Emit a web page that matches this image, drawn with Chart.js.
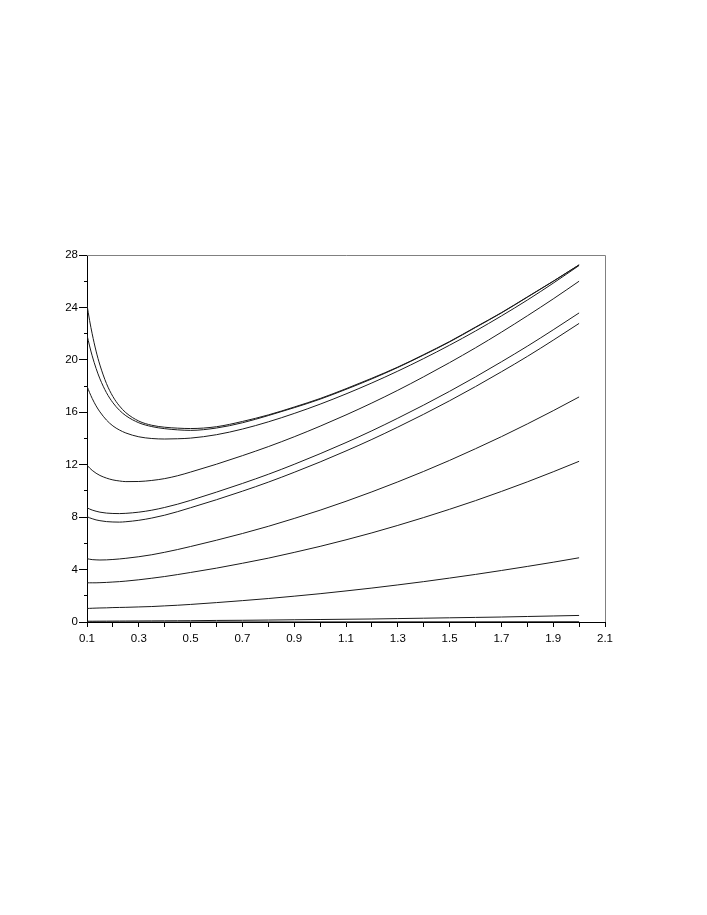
<!DOCTYPE html>
<html>
<head>
<meta charset="utf-8">
<title>curves</title>
<script src="https://cdn.jsdelivr.net/npm/chart.js@4.4.1/dist/chart.umd.min.js"></script>
<style>
    body { margin: 0; background: #fff; }
    canvas { display: block; }
</style>
</head>
<body>
<canvas id="curveChart" width="707" height="915" style="width:707px;height:915px"></canvas>
<script>
// x positions shared by every curve (denser on the left where the curves drop fast)
const xValues = [0.1, 0.11, 0.12, 0.135, 0.15, 0.175, 0.2, 0.225, 0.25, 0.3, 0.35, 0.4, 0.45, 0.5,
    0.6, 0.7, 0.8, 0.9, 1.0, 1.1, 1.2, 1.3, 1.4, 1.5, 1.6, 1.7, 1.8, 1.9, 2.0];

// curves, top to bottom
const curve1 = [24.2, 23.01, 21.99, 20.67, 19.6, 18.2, 17.2, 16.49, 15.97, 15.33, 15.01, 14.86, 14.79, 14.76,
    14.9, 15.3, 15.8, 16.4, 17.05, 17.8, 18.6, 19.45, 20.4, 21.4, 22.5, 23.6, 24.8, 26.0, 27.25];
const curve2 = [21.9, 21.06, 20.31, 19.35, 18.55, 17.5, 16.73, 16.16, 15.74, 15.2, 14.91, 14.75, 14.66, 14.62,
    14.8, 15.2, 15.75, 16.35, 17.0, 17.75, 18.55, 19.42, 20.37, 21.37, 22.47, 23.58, 24.78, 25.99, 27.24];
const curve3 = [18.0, 17.5, 17.06, 16.49, 16.03, 15.41, 14.96, 14.65, 14.42, 14.13, 14.0, 13.96, 13.98, 14.03,
    14.29, 14.72, 15.27, 15.91, 16.62, 17.4, 18.24, 19.14, 20.1, 21.12, 22.2, 23.35, 24.56, 25.85, 27.2];
const curve4 = [11.96, 11.75, 11.57, 11.35, 11.18, 10.98, 10.84, 10.76, 10.71, 10.72, 10.8, 10.94, 11.16, 11.44,
    12.04, 12.69, 13.38, 14.13, 14.94, 15.8, 16.71, 17.68, 18.71, 19.79, 20.92, 22.11, 23.36, 24.65, 26.0];
const curve5 = [8.72, 8.62, 8.54, 8.45, 8.38, 8.31, 8.28, 8.27, 8.29, 8.38, 8.53, 8.74, 8.99, 9.28,
    9.91, 10.57, 11.27, 12.03, 12.84, 13.69, 14.59, 15.55, 16.55, 17.6, 18.7, 19.85, 21.04, 22.29, 23.58];
const curve6 = [8.04, 7.95, 7.88, 7.79, 7.73, 7.66, 7.63, 7.62, 7.65, 7.76, 7.93, 8.15, 8.42, 8.72,
    9.33, 9.98, 10.67, 11.42, 12.21, 13.05, 13.93, 14.87, 15.85, 16.88, 17.96, 19.09, 20.26, 21.5, 22.78];
const curve7 = [4.83, 4.79, 4.76, 4.74, 4.73, 4.74, 4.77, 4.81, 4.86, 4.98, 5.13, 5.32, 5.53, 5.76,
    6.24, 6.75, 7.3, 7.9, 8.53, 9.21, 9.93, 10.69, 11.49, 12.33, 13.22, 14.14, 15.11, 16.12, 17.17];
const curve8 = [2.99, 2.99, 2.99, 2.99, 3.0, 3.02, 3.05, 3.08, 3.12, 3.22, 3.34, 3.47, 3.62, 3.78,
    4.11, 4.48, 4.87, 5.31, 5.77, 6.27, 6.8, 7.37, 7.97, 8.6, 9.26, 9.96, 10.69, 11.46, 12.26];
const curve9 = [1.03, 1.04, 1.05, 1.06, 1.07, 1.08, 1.1, 1.11, 1.12, 1.15, 1.18, 1.23, 1.28, 1.34,
    1.48, 1.63, 1.79, 1.97, 2.16, 2.37, 2.59, 2.83, 3.08, 3.35, 3.63, 3.93, 4.24, 4.56, 4.9];
const curve10 = [0.06, 0.06, 0.06, 0.062, 0.064, 0.066, 0.07, 0.072, 0.075, 0.08, 0.085, 0.09, 0.095, 0.1,
    0.12, 0.13, 0.15, 0.17, 0.19, 0.21, 0.23, 0.26, 0.29, 0.32, 0.35, 0.38, 0.42, 0.46, 0.5];
const curve11 = [0, 0, 0, 0, 0, 0, 0, 0, 0, 0, 0, 0, 0, 0.003,
    0.004, 0.005, 0.006, 0.007, 0.008, 0.009, 0.01, 0.011, 0.012, 0.013, 0.014, 0.016, 0.017, 0.019, 0.02];

const allCurves = [curve1, curve2, curve3, curve4, curve5, curve6, curve7, curve8, curve9, curve10, curve11];

// axis ranges and tick steps
const xMin = 0.1, xMax = 2.1, xStep = 0.1;
const yMin = 0, yMax = 28, yStep = 2, yLabelStep = 4;

const tickFont = { family: "'Liberation Sans', Arial, sans-serif", size: 11.5 };

// gray frame on top and right of the plot
const framePlugin = {
    id: 'frame',
    afterDraw(chart) {
        const { ctx, chartArea } = chart;
        ctx.save();
        ctx.strokeStyle = '#808080';
        ctx.lineWidth = 1;
        ctx.beginPath();
        ctx.moveTo(chartArea.left, chartArea.top + 0.5);
        ctx.lineTo(chartArea.right + 0.5, chartArea.top + 0.5);
        ctx.lineTo(chartArea.right + 0.5, chartArea.bottom);
        ctx.stroke();
        ctx.restore();
    }
};

const datasets = allCurves.map((ys, i) => ({
    label: 'curve ' + (i + 1),
    data: ys.map((y, j) => ({ x: xValues[j], y: y })),
    borderColor: '#1a1a1a',
    borderWidth: 1,
    pointRadius: 0,
    fill: false,
    cubicInterpolationMode: 'monotone'
}));

const ctx = document.getElementById('curveChart').getContext('2d');
const chart = new Chart(ctx, {
    type: 'line',
    data: { datasets: datasets },
    options: {
        responsive: false,
        animation: false,
        layout: {
            padding: { left: 47, top: 255, right: 102, bottom: 263 }
        },
        plugins: {
            legend: { display: false },
            tooltip: { enabled: false }
        },
        scales: {
            x: {
                type: 'linear',
                min: xMin,
                max: xMax,
                afterFit: function (scale) { scale.height = 30; },
                border: { display: true, color: '#000', width: 1 },
                grid: {
                    drawOnChartArea: false,
                    drawTicks: true,
                    tickLength: 5,
                    tickColor: '#000'
                },
                ticks: {
                    stepSize: xStep,
                    autoSkip: false,
                    maxRotation: 0,
                    padding: 5,
                    color: '#000',
                    font: tickFont,
                    // label every other tick: 0.1, 0.3, 0.5 ...
                    callback: function (value, index) {
                        return index % 2 === 0 ? (Math.round(value * 10) / 10).toFixed(1) : '';
                    }
                }
            },
            y: {
                min: yMin,
                max: yMax,
                afterFit: function (scale) { scale.width = 40; },
                border: { display: true, color: '#000', width: 1 },
                grid: {
                    drawOnChartArea: false,
                    drawTicks: true,
                    tickLength: 8,
                    tickColor: '#000',
                    // minor ticks are shorter: only the inner 3px are drawn
                    tickBorderDash: function (context) {
                        const v = context.tick ? context.tick.value : 0;
                        return Math.round(v) % yLabelStep === 0 ? [] : [0, 5, 3, 0];
                    }
                },
                ticks: {
                    stepSize: yStep,
                    autoSkip: false,
                    padding: 1,
                    color: '#000',
                    font: tickFont,
                    callback: function (value) {
                        return Math.round(value) % yLabelStep === 0 ? String(Math.round(value)) : '';
                    }
                }
            }
        }
    },
    plugins: [framePlugin]
});
</script>
</body>
</html>
